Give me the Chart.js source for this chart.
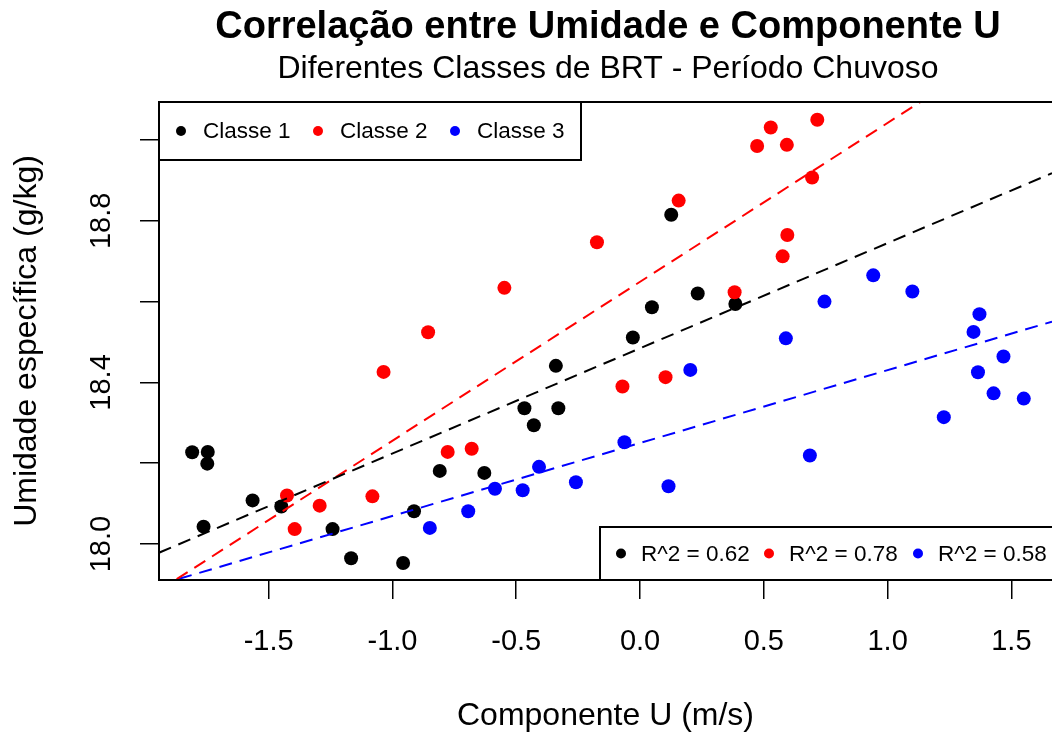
<!DOCTYPE html>
<html>
<head>
<meta charset="utf-8">
<script src="https://cdn.jsdelivr.net/npm/chart.js@4.4.1/dist/chart.umd.min.js"></script>
<style>
  html, body { margin: 0; padding: 0; background: #fff; overflow: hidden; }
  #grafico { display: block; }
</style>
</head>
<body>
<canvas id="grafico" width="1052" height="735"></canvas>
<script>
// ===== DADOS =====
const classe1U = [0.126, 0.233, 0.048, 0.385, -0.029, -0.340, -0.467, -0.330, -0.429, -1.809, -1.746,
  -1.748, -0.809, -0.629, -1.565, -1.449, -0.913, -1.763, -1.242, -1.167, -0.957];
const classe1Q = [18.815, 18.620, 18.586, 18.594, 18.511, 18.441, 18.336, 18.336, 18.294, 18.227, 18.228,
  18.199, 18.181, 18.176, 18.108, 18.093, 18.081, 18.043, 18.037, 17.965, 17.953];

const classe2U = [0.716, 0.528, 0.473, 0.593, 0.695, 0.156, -0.174, 0.595, 0.576, 0.382, -0.548,
  -0.856, -1.036, -0.777, -0.680, -1.426, -1.081, -1.294, -1.395, -0.071, 0.103];
const classe2Q = [19.050, 19.031, 18.985, 18.988, 18.907, 18.850, 18.747, 18.765, 18.712, 18.623, 18.634,
  18.524, 18.426, 18.228, 18.236, 18.120, 18.118, 18.095, 18.037, 18.390, 18.413];

const classe3U = [0.942, 1.100, 0.745, 1.371, 1.347, 0.589, 0.203, 1.468, 1.365, 1.428, 1.550,
  1.227, -0.063, 0.686, 0.115, -0.408, -0.586, -0.474, -0.259, -0.694, -0.849];
const classe3Q = [18.665, 18.625, 18.600, 18.569, 18.525, 18.509, 18.431, 18.464, 18.425, 18.373, 18.360,
  18.314, 18.252, 18.219, 18.143, 18.191, 18.137, 18.133, 18.153, 18.081, 18.040];

const classeNomes = ["Classe 1", "Classe 2", "Classe 3"];
const classeCores = ["#000000", "#ff0000", "#0000ff"];
const r2Valores = [0.62, 0.78, 0.58];

// retas de regressão (intercepto e inclinação)
const retaIntercepto = [18.4845, 18.649, 18.250];
const retaInclinacao = [0.2604, 0.3932, 0.1805];

const xTicks = [-1.5, -1.0, -0.5, 0.0, 0.5, 1.0, 1.5];
const yTicks = [18.0, 18.2, 18.4, 18.6, 18.8, 19.0];
const yRotulos = [18.0, 18.4, 18.8];

// o painel original continua além da borda direita da imagem (cortado em X_MAX)
const X_MIN = -1.943, X_MAX = 1.664;
const Y_MIN = 17.911, Y_MAX = 19.094;
const CORTE_DIREITA = 5; // px do painel que ficam fora da imagem

const titulo = "Correlação entre Umidade e Componente U";
const subtitulo = "Diferentes Classes de BRT - Período Chuvoso";
const FONTE = "'Liberation Sans', Arial, sans-serif";

// ===== DATASETS =====
const series = [[classe1U, classe1Q], [classe2U, classe2Q], [classe3U, classe3Q]];
const datasets = [];

series.forEach(([us, qs], i) => {
  datasets.push({
    type: "scatter",
    label: classeNomes[i],
    data: us.map((u, k) => ({ x: u, y: qs[k] })),
    backgroundColor: classeCores[i],
    borderWidth: 0,
    pointRadius: 7,
    order: 3 - i + 1,
  });
});

retaIntercepto.forEach((a, i) => {
  const b = retaInclinacao[i];
  datasets.push({
    type: "line",
    label: "reta " + classeNomes[i],
    data: [{ x: X_MIN, y: a + b * X_MIN }, { x: X_MAX, y: a + b * X_MAX }],
    borderColor: classeCores[i],
    borderWidth: 2,
    borderDash: [13, 8],
    pointRadius: 0,
    fill: false,
    order: 0,
  });
});

// ===== LEGENDAS / MOLDURA / TÍTULOS =====
function desenhaLegenda(ctx, x, y, w, h, textos, dotX, textX) {
  ctx.fillStyle = "#fff";
  ctx.fillRect(x, y, w, h);
  ctx.strokeStyle = "#000";
  ctx.lineWidth = 2;
  ctx.strokeRect(x, y, w, h);
  ctx.font = "22.5px " + FONTE;
  ctx.textAlign = "left";
  ctx.textBaseline = "middle";
  textos.forEach((t, i) => {
    ctx.fillStyle = classeCores[i];
    ctx.beginPath();
    ctx.arc(x + dotX[i], y + h / 2, 5, 0, Math.PI * 2);
    ctx.fill();
    ctx.fillStyle = "#000";
    ctx.fillText(t, x + textX[i], y + h / 2 + 1);
  });
}

const moldura = {
  id: "moldura",
  afterDraw(chart) {
    const { ctx, chartArea: a } = chart;
    const direita = a.right + CORTE_DIREITA;
    ctx.save();
    ctx.strokeStyle = "#000";
    ctx.lineWidth = 2;
    ctx.strokeRect(a.left, a.top, direita - a.left, a.bottom - a.top);

    const cx = (a.left + direita) / 2;
    ctx.fillStyle = "#000";
    ctx.textAlign = "center";
    ctx.textBaseline = "alphabetic";
    ctx.font = "bold 38px " + FONTE;
    ctx.fillText(titulo, cx, 38);
    ctx.font = "32px " + FONTE;
    ctx.fillText(subtitulo, cx, 78);

    desenhaLegenda(ctx, a.left, a.top, 422, 58, classeNomes, [22, 159, 296], [44, 181, 318]);
    const r2Textos = r2Valores.map(v => "R^2 = " + v.toFixed(2));
    desenhaLegenda(ctx, direita - 457, a.bottom - 53, 457, 53, r2Textos, [21, 169, 318], [41, 189, 338]);
    ctx.restore();
  },
};

// ===== GRÁFICO =====
new Chart(document.getElementById("grafico").getContext("2d"), {
  type: "scatter",
  data: { datasets },
  options: {
    responsive: false,
    animation: false,
    layout: { autoPadding: false, padding: { top: 102, right: 0, left: 0, bottom: 0 } },
    plugins: {
      legend: { display: false },
      tooltip: { enabled: false },
    },
    scales: {
      x: {
        type: "linear",
        min: X_MIN,
        max: X_MAX,
        afterBuildTicks: (s) => { s.ticks = xTicks.map(v => ({ value: v })); },
        afterFit: (s) => {
          s.height = 155;
          s.paddingLeft = 0;
          s.paddingRight = 0;
        },
        ticks: {
          autoSkip: false,
          minRotation: 0,
          maxRotation: 0,
          padding: 26,
          color: "#000",
          font: { family: FONTE, size: 29 },
          callback: (v) => Number(v).toFixed(1),
        },
        grid: { drawOnChartArea: false, drawTicks: true, tickLength: 19, color: "#000", lineWidth: 1.5 },
        border: { display: false },
        title: {
          display: true,
          text: "Componente U (m/s)",
          color: "#000",
          font: { family: FONTE, size: 32 },
          padding: { top: 0, bottom: 0 },
        },
      },
      y: {
        type: "linear",
        min: Y_MIN,
        max: Y_MAX,
        afterBuildTicks: (s) => { s.ticks = yTicks.map(v => ({ value: v })); },
        afterFit: (s) => {
          s.width = 159;
          s.paddingTop = 0;
          s.paddingBottom = 0;
        },
        ticks: {
          autoSkip: false,
          minRotation: 90,
          maxRotation: 90,
          crossAlign: "center",
          padding: 10,
          color: "#000",
          font: { family: FONTE, size: 29 },
          callback: (v) => yRotulos.some(r => Math.abs(r - v) < 1e-6) ? Number(v).toFixed(1) : "",
        },
        grid: { drawOnChartArea: false, drawTicks: true, tickLength: 19, color: "#000", lineWidth: 1.5 },
        border: { display: false },
        title: {
          display: true,
          text: "Umidade específica (g/kg)",
          color: "#000",
          font: { family: FONTE, size: 32 },
          padding: { top: 8, bottom: 0 },
        },
      },
    },
  },
  plugins: [moldura],
});
</script>
</body>
</html>
